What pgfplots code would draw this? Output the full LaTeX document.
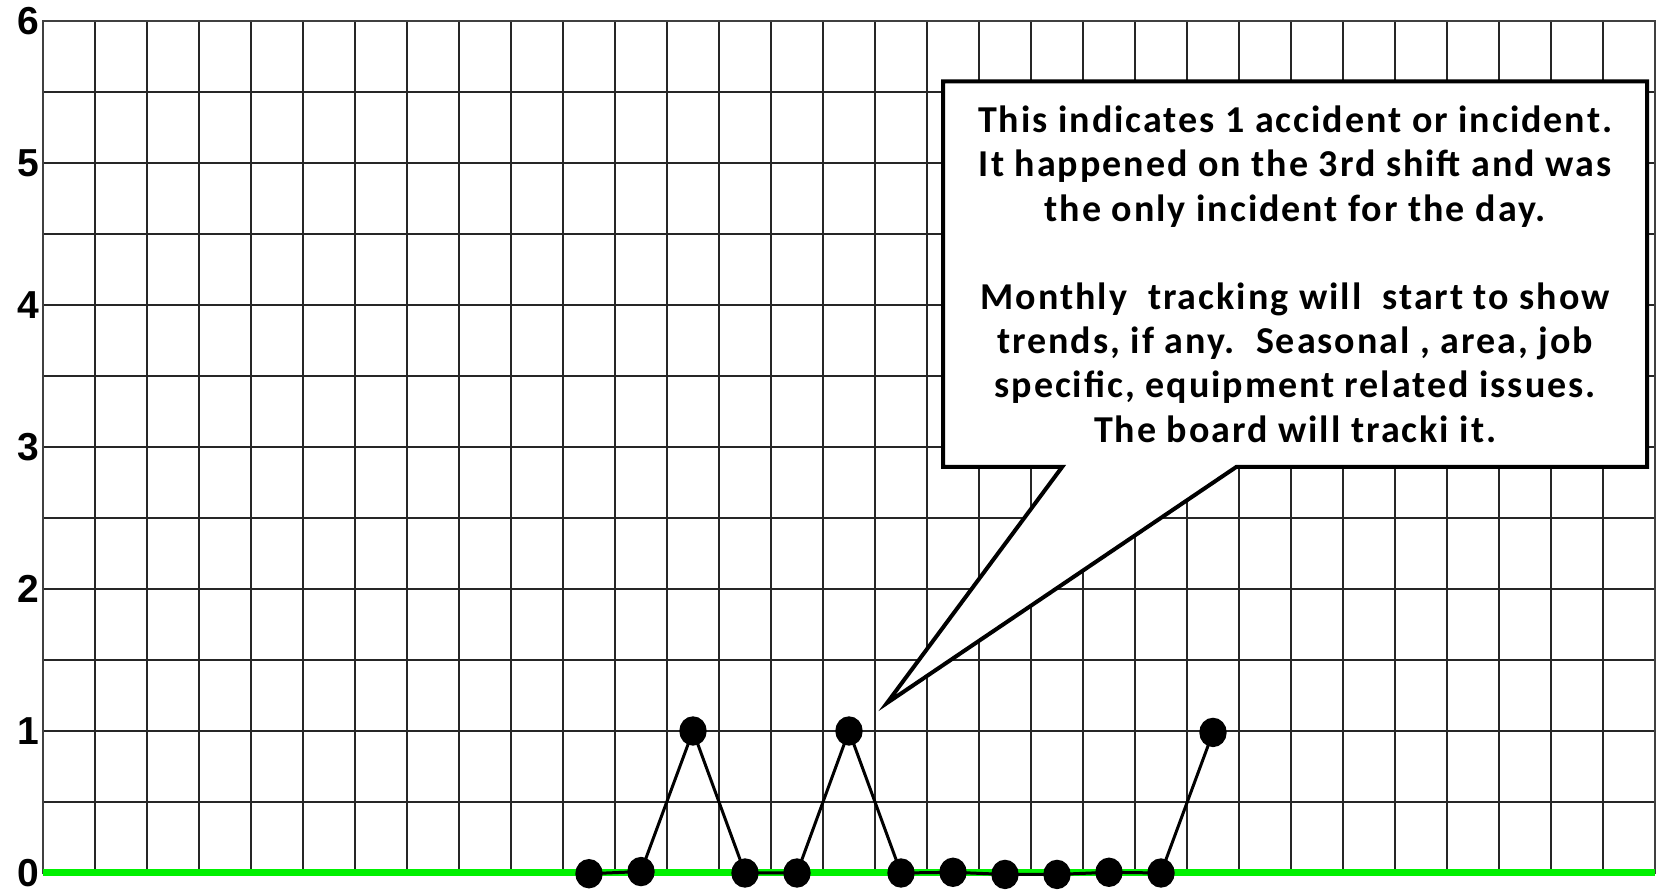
\documentclass[border=0pt]{standalone}
\usepackage{pgfplots}
\pgfplotsset{compat=1.18}
\usepackage{fontspec}
\setmainfont{Carlito}
\newfontfamily\calloutfont{Carlito}[LetterSpace=5.2]
\newfontfamily\arialb{Liberation Sans}[BoldFont={Liberation Sans Bold}]
\definecolor{brightgreen}{RGB}{0,240,0}
\begin{document}
\begin{tikzpicture}
\path[use as bounding box] (-21.5pt,-10.5pt) rectangle (808.5pt,436.5pt);
\begin{axis}[
  at={(0pt,0pt)}, anchor=south west,
  scale only axis, width=806pt, height=426pt,
  xmin=0.5, xmax=31.5, ymin=0, ymax=6,
  xtick={0.5,1.5,...,31.5}, xticklabels={},
  ytick={0,1,2,3,4,5,6},
  minor ytick={0.5,1.5,2.5,3.5,4.5,5.5},
  grid=both,
  major grid style={black!85, line width=0.9pt},
  minor grid style={black!85, line width=0.9pt},
  tick style={draw=none},
  axis line style={black!75, line width=1.1pt},
  clip=false,
  /pgf/number format/assume math mode=true,
  yticklabel style={font=\arialb\bfseries\fontsize{19.5}{19.5}\selectfont, xshift=1.5pt},
]
\addplot[brightgreen, line width=3.5pt] coordinates {(0.5,0) (31.5,0)};
\addplot[black, line width=1.5pt, mark=*, mark size=6.1pt, mark options={fill=black, yscale=1.08}]
  coordinates {
    (11,-0.005) (12,0.01) (13,1) (14,0) (15,0) (16,1) (17,0) (18,0.005)
    (19,-0.01) (20,-0.01) (21,0.005) (22,0) (23,0.99)
  };
\draw[black, line width=2pt, fill=white, line join=miter]
  (axis cs:17.81,2.86) -- (axis cs:20.1,2.86) -- (axis cs:16.73,1.197) -- (axis cs:23.45,2.86)
  -- (axis cs:31.35,2.86) -- (axis cs:31.35,5.574) -- (axis cs:17.81,5.574) -- cycle;
\node[align=center, font=\calloutfont\bfseries\fontsize{19}{22.1}\selectfont, inner sep=0pt]
  at (axis cs:24.58,4.217) {This indicates 1 accident or incident.\\
  It happened on the 3rd shift and was\\
  the only incident for the day.\\
  \mbox{}\\
  Monthly\ \ tracking will\ \ start to show\\
  trends, if any.\ \ Seasonal , area, job\\
  specific, equipment related issues.\\
  The board will tracki it.};
\end{axis}
\end{tikzpicture}
\end{document}
